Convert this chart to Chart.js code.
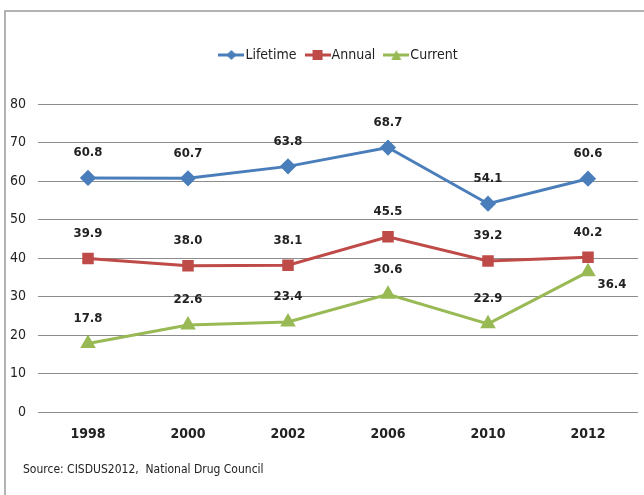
<!DOCTYPE html>
<html><head><meta charset="utf-8">
<script src="https://cdn.jsdelivr.net/npm/chart.js@4/dist/chart.umd.min.js"></script>
<style>html,body{margin:0;padding:0;background:#fff;}#wrap{width:644px;height:495px;position:relative;}</style>
</head><body><div id="wrap"><canvas id="c" width="644" height="495"></canvas></div>
<script>
const categories = ["1998","2000","2002","2006","2010","2012"];
const lifetime = [60.8, 60.7, 63.8, 68.7, 54.1, 60.6];
const annual = [39.9, 38.0, 38.1, 45.5, 39.2, 40.2];
const current = [17.8, 22.6, 23.4, 30.6, 22.9, 36.4];
const seriesNames = ["Lifetime","Annual","Current"];
const sourceText = "Source: CISDUS2012,  National Drug Council";

const FONT = "'Liberation Sans Narrow','Arial Narrow','DejaVu Sans Condensed',sans-serif";
const colors = ["#4A7EBB","#BE4B48","#98B954"];
const styles = ["rectRot","rect","triangle"];

function legendIcon(color, style){
  const cv = document.createElement('canvas');
  cv.width = 26; cv.height = 12;
  const g = cv.getContext('2d');
  g.strokeStyle = color; g.lineWidth = 3;
  g.beginPath(); g.moveTo(0,6); g.lineTo(26,6); g.stroke();
  g.fillStyle = color;
  g.beginPath();
  if(style==='rectRot'){ g.moveTo(13,1); g.lineTo(18,6); g.lineTo(13,11); g.lineTo(8,6); }
  else if(style==='rect'){ g.rect(8,1,10,10); }
  else { g.moveTo(13,1); g.lineTo(18,11); g.lineTo(8,11); }
  g.closePath(); g.fill();
  return cv;
}

const legendGap = {
  id:'legendGap',
  beforeInit(chart){
    const lg = chart.legend;
    if (!lg) return;
    const orig = lg.fit;
    lg.fit = function(){ orig.call(this); this.height += 32; };
  },
  afterLayout(chart){
    const lg = chart.legend;
    if (!lg) return;
    lg.left += 22; lg.right += 22;
  }
};

const frame = {
  id:'frame',
  beforeDraw(chart){
    const c = chart.ctx;
    c.save();
    c.fillStyle = '#fff'; c.fillRect(0,0,chart.width,chart.height);
    c.strokeStyle = '#9a9a9a'; c.lineWidth = 1.5;
    c.beginPath(); c.moveTo(5,495); c.lineTo(5,11); c.lineTo(644,11); c.stroke();
    c.restore();
  },
  afterDraw(chart){
    const c = chart.ctx;
    c.save();
    c.fillStyle = '#222';
    c.font = "12px " + FONT;
    c.textBaseline = 'middle';
    c.fillText(sourceText, 23, 470);
    c.restore();
  }
};

const dataLabels = {
  id:'dataLabels',
  afterDatasetsDraw(chart){
    const c = chart.ctx;
    c.save();
    c.font = "bold 13px " + FONT;
    c.fillStyle = '#222';
    c.textAlign = 'center'; c.textBaseline = 'middle';
    chart.data.datasets.forEach((ds, di) => {
      const meta = chart.getDatasetMeta(di);
      meta.data.forEach((pt, i) => {
        const v = ds.data[i];
        let x = pt.x, y = pt.y - 25;
        if (di === 2 && i === ds.data.length - 1) { x = pt.x + 24; y = pt.y + 13; }
        c.fillText(v.toFixed(1), x, y);
      });
    });
    c.restore();
  }
};

const sets = [lifetime, annual, current].map((d, i) => ({
  label: seriesNames[i],
  data: d,
  borderColor: colors[i],
  backgroundColor: colors[i],
  borderWidth: 3,
  pointStyle: styles[i],
  pointRadius: 6,
  pointHoverRadius: 6,
  tension: 0
}));

new Chart(document.getElementById('c'), {
  type: 'line',
  data: { labels: categories, datasets: sets },
  plugins: [legendGap, frame, dataLabels],
  options: {
    responsive: false,
    animation: false,
    devicePixelRatio: 1,
    layout: { autoPadding: false, padding: { left: 0, right: 6, top: 34, bottom: 45 } },
    plugins: {
      tooltip: { enabled: false },
      legend: {
        position: 'top',
        labels: {
          usePointStyle: true,
          generateLabels(chart){
            return chart.data.datasets.map((ds, i) => ({
              text: ds.label,
              pointStyle: legendIcon(colors[i], styles[i]),
              fillStyle: colors[i], strokeStyle: colors[i], lineWidth: 0,
              fontColor: '#222', datasetIndex: i, hidden: false
            }));
          },
          font: { family: FONT, size: 14 },
          color: '#222',
          padding: 14,
          boxHeight: 12
        }
      }
    },
    scales: {
      x: {
        offset: true,
        grid: { display: false, drawTicks: false, offset: true },
        border: { display: false },
        ticks: { font: { family: FONT, size: 14, weight: 'bold' }, color: '#222', padding: 14 },
        afterFit(s){ s.height = 38; s.paddingLeft = 0; s.paddingRight = 0; }
      },
      y: {
        min: 0, max: 80,
        ticks: { stepSize: 10, font: { family: FONT, size: 14 }, color: '#222', padding: 12 },
        grid: { color: '#8c8c8c', lineWidth: 1, drawTicks: false },
        border: { display: false },
        afterFit(s){ s.width = 38; }
      }
    }
  }
});
</script></body></html>
